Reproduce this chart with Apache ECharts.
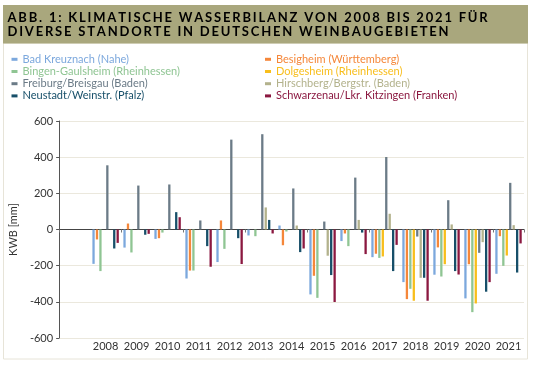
<!DOCTYPE html>
<html><head><meta charset="utf-8">
<script src="https://cdn.jsdelivr.net/npm/echarts@6/dist/echarts.min.js"></script>
<style>html,body{margin:0;padding:0;background:#fff}#c{width:539px;height:366px}</style>
</head><body><div id="c"></div>
<script>
const years = ['2008','2009','2010','2011','2012','2013','2014','2015','2016','2017','2018','2019','2020','2021'];
const yTicks = [-600,-400,-200,0,200,400,600];
const titleLine1 = 'ABB. 1: KLIMATISCHE WASSERBILANZ VON 2008 BIS 2021 FÜR';
const titleLine2 = 'DIVERSE STANDORTE IN DEUTSCHEN WEINBAUGEBIETEN';
const yName = 'KWB [mm]';

const badKreuznach = [-190,-100,-52,-271,-180,-33,22,-359,-64,-153,-291,-250,-381,-245];
const besigheim    = [-55,33,-48,-227,50,null,-87,-256,-22,-134,-385,-99,-192,-37];
const bingen       = [-230,-127,-17,-227,-107,-37,-11,-378,-92,-157,-328,-260,-457,-201];
const dolgesheim   = [null,null,null,null,null,null,null,null,null,-149,-394,-192,-409,-144];
const freiburg     = [355,243,249,50,497,527,227,44,287,401,-39,162,-129,258];
const hirschberg   = [null,null,null,null,null,122,22,-145,53,87,-267,28,-70,24];
const neustadt     = [-105,-29,96,-92,-48,53,-125,-252,-17,-230,-267,-230,-344,-238];
const schwarzenau  = [-74,-24,68,-206,-191,-22,-105,-401,-136,-85,-394,-249,-291,-77];

const seriesDefs = [
  ['Bad Kreuznach (Nahe)', badKreuznach, '#7ca8dd'],
  ['Besigheim (Württemberg)', besigheim, '#f5873a'],
  ['Bingen-Gaulsheim (Rheinhessen)', bingen, '#8fc593'],
  ['Dolgesheim (Rheinhessen)', dolgesheim, '#f8be1c'],
  ['Freiburg/Breisgau (Baden)', freiburg, '#6b7b87'],
  ['Hirschberg/Bergstr. (Baden)', hirschberg, '#b3b28c'],
  ['Neustadt/Weinstr. (Pfalz)', neustadt, '#174f69'],
  ['Schwarzenau/Lkr. Kitzingen (Franken)', schwarzenau, '#8b1840']
];
const categories = [''].concat(years);
const FONT = 'Lato';

// letter-spaced title text via rich-text tokens (one token per character)
const spaced = s => s.split('').map(c => '{s|' + c + '}').join('');
const titleRich = {s: {fontFamily: FONT, fontWeight: 'bold', fontSize: 13, color: '#fff', padding: [0, 1.8, 0, 0]}};

const chart = echarts.init(document.getElementById('c'), null, {renderer:'canvas'});
const legendItem = d => ({name: d[0], textStyle: {color: d[2]}});
const legendCommon = {
  orient: 'vertical', top: 53.3, padding: 0, icon: 'rect', itemWidth: 6, itemHeight: 3, itemGap: 0.2,
  selectedMode: false,
  textStyle: {fontFamily: FONT, fontSize: 11, lineHeight: 12}
};
chart.setOption({
  animation: false,
  textStyle: {fontFamily: FONT},
  graphic: [
    {type:'rect', shape:{x:3.5,y:43,width:524,height:316}, style:{fill:'none', stroke:'#e7e4d8', lineWidth:1}, silent:true},
    {type:'rect', shape:{x:3,y:5,width:525,height:38.5}, style:{fill:'#a9a77d'}, silent:true},
    {type:'text', x:7.5, y:17.5, style:{text:spaced(titleLine1), rich:titleRich, textVerticalAlign:'middle'}},
    {type:'text', x:7.5, y:32.3, style:{text:spaced(titleLine2), rich:titleRich, textVerticalAlign:'middle'}}
  ],
  legend: [
    Object.assign({left: 11.5, data: [0,2,4,6].map(i => legendItem(seriesDefs[i]))}, legendCommon),
    Object.assign({left: 265, data: [1,3,5,7].map(i => legendItem(seriesDefs[i]))}, legendCommon)
  ],
  grid: {left: 43, right: 15, top: 121, bottom: 28},
  xAxis: [
    {type:'category', data: categories, position:'bottom',
     axisLine:{onZero:true, lineStyle:{color:'#444', width:1}},
     axisTick:{show:true, length:3, alignWithLabel:false, lineStyle:{color:'#777'}},
     axisLabel:{show:false}, splitLine:{show:false}},
    {type:'category', data: categories, position:'bottom',
     axisLine:{show:false, onZero:false}, axisTick:{show:false},
     axisLabel:{show:true, color:'#333', fontSize:11, fontFamily:FONT, margin:3, interval:0}}
  ],
  yAxis: {
    type:'value', min:-600, max:600, interval:200,
    name: yName, nameLocation:'middle', nameRotate:90, nameGap:29,
    nameTextStyle:{color:'#333', fontSize:11, fontFamily:FONT},
    axisLine:{show:true, lineStyle:{color:'#555'}},
    axisTick:{show:true, length:3, lineStyle:{color:'#555'}},
    axisLabel:{color:'#333', fontSize:11, fontFamily:FONT, margin:6,
      formatter: v => yTicks.indexOf(v) >= 0 ? String(v) : ''},
    splitLine:{show:true, lineStyle:{color:'#ebe8dd', width:1}}
  },
  series: seriesDefs.map(d => ({
    name: d[0], type:'bar', xAxisIndex:0, data:[null].concat(d[1]),
    barWidth: 2.3, barGap:'50%', itemStyle:{color:d[2]}
  }))
});
</script></body></html>
